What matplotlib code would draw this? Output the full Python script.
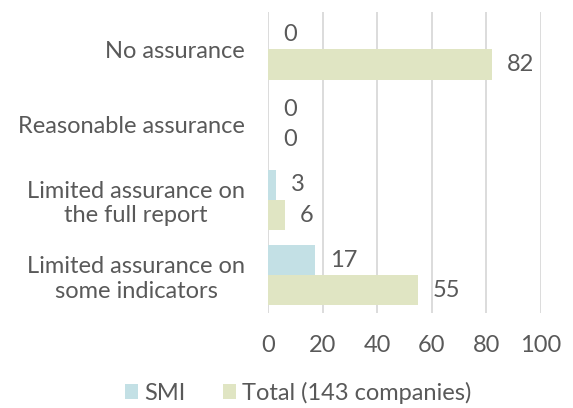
import numpy as np
import matplotlib
matplotlib.use("Agg")
import matplotlib.pyplot as plt

plt.rcParams['font.family'] = ['Lato', 'DejaVu Sans']

categories = ["No assurance", "Reasonable assurance",
              "Limited assurance on\nthe full report",
              "Limited assurance on\nsome indicators"]
smi = [0, 0, 3, 17]
total = [82, 0, 6, 55]
series_names = ["SMI", "Total (143 companies)"]

col_smi = "#C3E0E5"
col_total = "#E0E5C3"
txt = "#595959"
fs = 17

fig = plt.figure(figsize=(5.73, 4.08), dpi=100)
ax = fig.add_axes([0.468, 0.233, 0.476, 0.738])

y = np.arange(len(categories))
h = 0.4
b1 = ax.barh(y - h / 2, smi, height=h, color=col_smi, label=series_names[0], zorder=2)
b2 = ax.barh(y + h / 2, total, height=h, color=col_total, label=series_names[1], zorder=2)

for bars, vals in [(b1, smi), (b2, total)]:
    for bar, v in zip(bars, vals):
        ax.text(v + 5.5, bar.get_y() + bar.get_height() / 2, str(v),
                va='center', ha='left', fontsize=fs, color=txt)

ax.set_xlim(0, 100)
ax.set_ylim(len(categories) - 0.5, -0.5)
ax.set_xticks(range(0, 101, 20))
ax.set_yticks(y)
ax.set_yticklabels(categories, ha='right', multialignment='center', linespacing=1.2)
ax.tick_params(axis='y', length=0, pad=16.5, labelsize=fs, colors=txt)
ax.tick_params(axis='x', length=0, pad=16, labelsize=fs, colors=txt)
ax.grid(axis='x', color='#D9D9D9', linewidth=1.3, zorder=0)
for s in ax.spines.values():
    s.set_visible(False)

fig.legend(loc='lower center', bbox_to_anchor=(0.52, -0.042), ncol=2, frameon=False,
           fontsize=fs, labelcolor=txt, handlelength=0.55, handleheight=0.55,
           handletextpad=0.25, columnspacing=1.6)

fig.savefig("out.png", dpi=100)
